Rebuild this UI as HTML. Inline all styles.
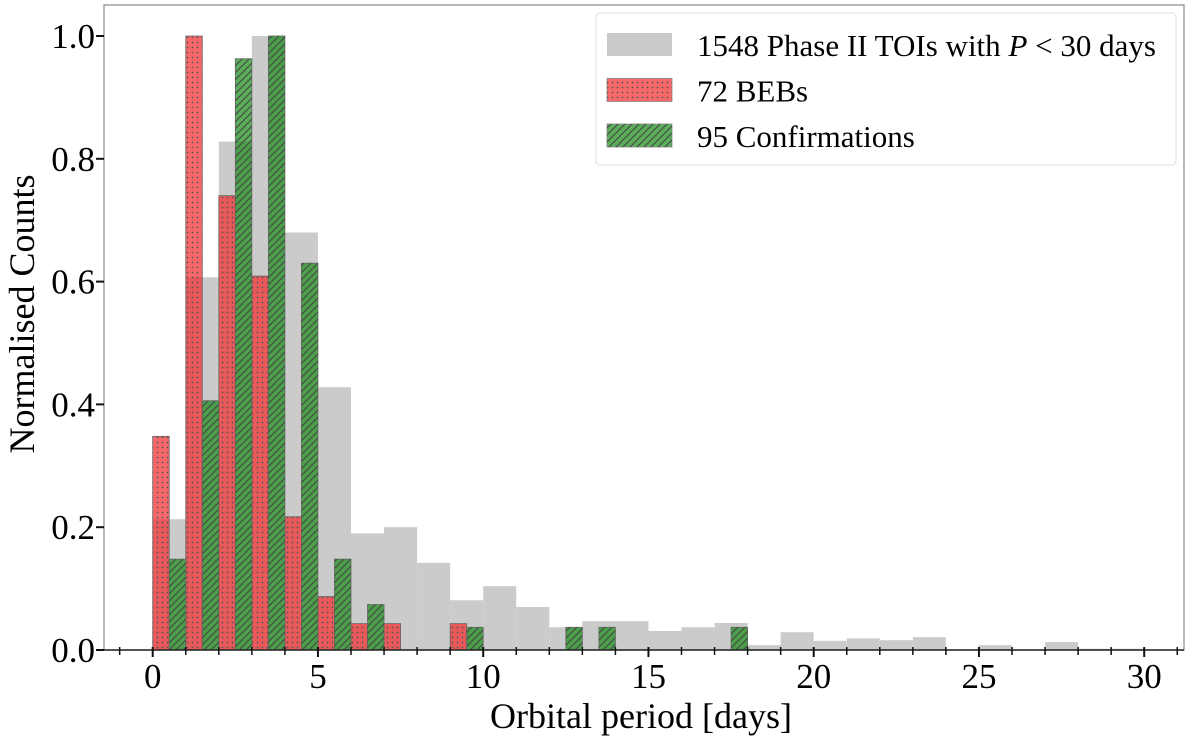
<!DOCTYPE html>
<html><head><meta charset="utf-8"><style>
html,body{margin:0;padding:0;background:#fff;}
svg{display:block;font-family:"Liberation Serif",serif;}
</style></head><body>
<svg id="chart" width="1200" height="736" viewBox="0 0 1200 736" xmlns="http://www.w3.org/2000/svg">
<defs>
<pattern id="dots" width="5" height="5" patternUnits="userSpaceOnUse"><circle cx="2.5" cy="2.5" r="0.9" fill="#555"/></pattern>
<pattern id="hatch" width="7" height="7" patternUnits="userSpaceOnUse"><path d="M-1,8 L8,-1 M-2,2 L2,-2 M5,9 L9,5" stroke="#444" stroke-width="1.1"/></pattern>
</defs>
<g id="plot"></g>
</svg>
<script>
const binStarts = [0,1,2,3,4,5,6,7,8,9,10,11,12,13,14,15,16,17,18,19,20,21,22,23,24,25,26,27,28,29];
const toiValues = [0.213,0.607,0.828,1.0,0.68,0.428,0.19,0.2,0.142,0.081,0.104,0.07,0.037,0.047,0.047,0.031,0.037,0.044,0.008,0.029,0.015,0.019,0.016,0.021,0,0.008,0,0.013,0.002,0.002];
const bebValues = [0.348,1.0,0.74,0.609,0.217,0.087,0.043,0.043,0,0.043,0,0,0,0,0,0,0,0,0,0,0,0,0,0,0,0,0,0,0,0];
const confValues = [0.148,0.406,0.963,1.0,0.63,0.148,0.074,0,0,0.037,0,0,0.037,0.037,0,0,0,0.037,0,0,0,0,0,0,0,0,0,0,0,0];
const xTicks = [0,5,10,15,20,25,30];
const yTicks = [0,0.2,0.4,0.6,0.8,1.0];
const yTickLabels = ["0.0","0.2","0.4","0.6","0.8","1.0"];

const X0=152.7, KX=33.05, Y0=650, KY=614;
const L=104, R=1184, T=5;
const xs = v => X0 + v*KX;
const ys = v => Y0 - v*KY;
const NS="http://www.w3.org/2000/svg";
const g=document.getElementById('plot');
function mk(tag, attrs){const e=document.createElementNS(NS,tag);for(const k in attrs)e.setAttribute(k,attrs[k]);g.appendChild(e);return e;}

binStarts.forEach((b,i)=>{
  const v=toiValues[i]; if(v<=0) return;
  const r=mk('rect',{x:xs(b),y:ys(v),width:KX,height:Y0-ys(v),fill:'#cbcbcb'});
  
  
});
function halfBar(vals, off, fill, pat, name){
  binStarts.forEach((b,i)=>{
    const v=vals[i]; if(v<=0) return;
    const a={x:xs(b+off),y:ys(v),width:KX/2,height:Y0-ys(v)};
    const r=mk('rect',Object.assign({fill:fill,stroke:'#666','stroke-width':0.8},a));
    
    
    const h=mk('rect',Object.assign({fill:'url(#'+pat+')'},a));
    
    
  });
}
halfBar(bebValues,0,'rgba(245,40,40,0.7)','dots','beb-bar');
halfBar(confValues,0.5,'rgba(20,140,20,0.7)','hatch','confirmation-bar');

const fr=mk('rect',{x:L,y:T,width:R-L,height:Y0-T,fill:'none',stroke:'#888','stroke-width':1.2});


const bx=mk('line',{x1:L,y1:Y0,x2:R,y2:Y0,stroke:'#222','stroke-width':1.5});



for(let d=-1; d<=31; d++){
  const major = xTicks.includes(d);
  const t=mk('line',{x1:xs(d),y1:Y0-3,x2:xs(d),y2:Y0+(major?7:5),stroke:'#111','stroke-width':major?2:1.5});
  
  
}
xTicks.forEach(v=>{
  const t=mk('text',{x:xs(v),y:688,'text-anchor':'middle','font-size':35,fill:'#000'});
  t.textContent=v;
  
  
});
yTicks.forEach((v,i)=>{
  const t=mk('line',{x1:L-8,y1:ys(v),x2:L,y2:ys(v),stroke:'#111','stroke-width':2});
  
  
  const l=mk('text',{x:L-9,y:ys(v)+12,'text-anchor':'end','font-size':35,fill:'#000'});
  l.textContent=yTickLabels[i];
  
  
});
const xt=mk('text',{x:641,y:728,'text-anchor':'middle','font-size':36,fill:'#000'});
xt.textContent='Orbital period [days]';


const yt=mk('text',{x:0,y:0,'text-anchor':'middle','font-size':36,fill:'#000',transform:'translate(34,314) rotate(-90)'});
yt.textContent='Normalised Counts';



const lb=mk('rect',{x:596,y:13,width:580,height:152,rx:4,fill:'#fff','fill-opacity':0.85,stroke:'#ddd','stroke-width':1});


const entries=[['#cbcbcb',null,'1548 Phase II TOIs with ','legend-toi'],['rgba(245,40,40,0.7)','dots','72 BEBs','legend-beb'],['rgba(20,140,20,0.7)','hatch','95 Confirmations','legend-confirmation']];
entries.forEach((e,i)=>{
  const y=33+i*45.5;
  const p=mk('rect',{x:607,y:y,width:65,height:23,fill:e[0],stroke:e[1]?'#888':'none','stroke-width':0.8});
  
  
  if(e[1]){const h=mk('rect',{x:607,y:y,width:65,height:23,fill:'url(#'+e[1]+')'});
    
    }
  const t=mk('text',{x:697,y:y+23,'font-size':31,fill:'#000'});
  
  
  if(i===0){
    t.innerHTML='1548 Phase II TOIs with <tspan font-style="italic">P</tspan> &lt; 30 days';
  } else t.textContent=e[2];
});
</script>
</body></html>
